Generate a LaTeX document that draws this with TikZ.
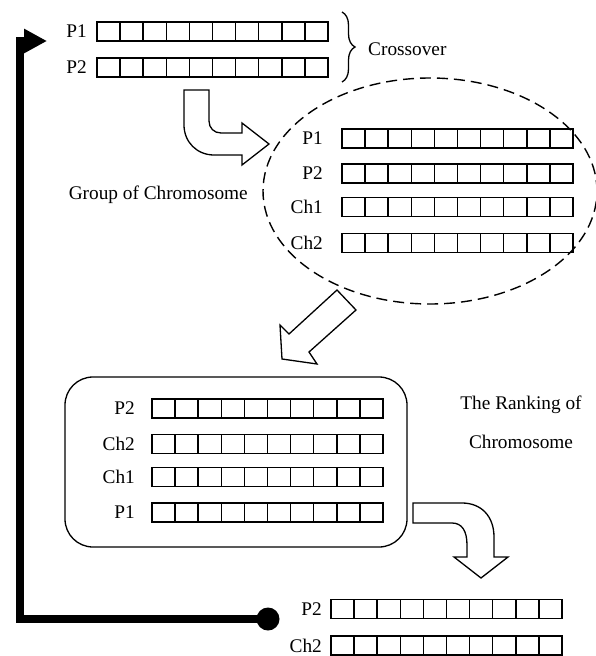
\documentclass[tikz,border=0pt]{standalone}
\usepackage{fontspec}
\setmainfont{Liberation Serif}
\usetikzlibrary{calc,shapes.geometric,arrows.meta,decorations.pathreplacing}
\tikzset{
  bar/.style={draw, line width=1.5pt, minimum width=231pt, minimum height=19pt, inner sep=0pt, outer sep=0pt},
  cellline/.style={line width=1.5pt},
  lbl/.style={font=\fontsize{19.3pt}{23pt}\selectfont, inner sep=0pt, anchor=east},
  txt/.style={font=\fontsize{19.3pt}{23pt}\selectfont, inner sep=0pt},
  blockarrow/.style={draw, line width=1.3pt, fill=white, line join=miter},
  loopline/.style={line width=8pt, line join=miter, -{Triangle[length=23pt,width=23pt]}},
}
\newcommand{\chromrow}[5]{%
  \node[bar, anchor=west] (#1) at (#3,#4) {};
  \foreach \k in {1,...,9}{\draw[cellline] ($(#1.south west)!\k/10!(#1.south east)$) -- ($(#1.north west)!\k/10!(#1.north east)$);}
  \node[lbl] (#1-l) at (#5,#4) {#2};
}
\begin{document}
\begin{tikzpicture}[x=1pt,y=-1pt]
\useasboundingbox (0,0) rectangle (596,656);
% group ellipse
\node[ellipse, draw, line width=1.4pt, dash pattern=on 11pt off 6pt, minimum width=334pt, minimum height=226pt, inner sep=0pt] (group) at (430,191) {};
% ranking box
\node[draw, line width=1.3pt, rounded corners=28pt, minimum width=342pt, minimum height=170pt, inner sep=0pt] (rank) at (236,462) {};
% top parents
\chromrow{tP1}{P1}{97}{31.5}{87}
\chromrow{tP2}{P2}{97}{67.5}{87}
% brace + crossover
\coordinate (brtop) at (342,12);
\coordinate (brbot) at (342,82);
\draw[decorate, decoration={brace, amplitude=13pt}, line width=1.3pt] (brtop) -- (brbot);
\node[txt, anchor=base west] (cross) at (368,55) {Crossover};
% group rows
\chromrow{eP1}{P1}{342}{138.5}{323}
\chromrow{eP2}{P2}{342}{173.5}{323}
\chromrow{eCh1}{Ch1}{342}{207}{323}
\chromrow{eCh2}{Ch2}{342}{243}{323}
\node[txt, anchor=base east] (grouplbl) at (248,199.5) {Group of Chromosome};
% ranking rows
\chromrow{rP2}{P2}{152}{408.5}{135}
\chromrow{rCh2}{Ch2}{152}{444}{135}
\chromrow{rCh1}{Ch1}{152}{477}{135}
\chromrow{rP1}{P1}{152}{512.5}{135}
\node[txt, anchor=base] (rank1) at (521,409.5) {The Ranking of};
\node[txt, anchor=base] (rank2) at (521,448) {Chromosome};
% bottom rows
\chromrow{bP2}{P2}{331}{609}{322}
\chromrow{bCh2}{Ch2}{331}{645.5}{322}
% block arrow 1
\draw[blockarrow] (184,90) -- (209,90) -- (209,121) .. controls (209,128) and (214,133) .. (221,133)
  -- (242,133) -- (242,123) -- (269,144) -- (242,165) -- (242,155) -- (214,155)
  .. controls (197,155) and (184,142) .. (184,125) -- cycle;
% block arrow 2
\draw[blockarrow] (337,290) -- (356,310) -- (309,352) -- (317,364) -- (282,359) -- (280,325) -- (289,334) -- cycle;
% block arrow 3
\draw[blockarrow] (413,503) -- (462,503) .. controls (481,503) and (494,516) .. (494,537) -- (494,557)
  -- (508,557) -- (481,578) -- (454,557) -- (467,557) -- (467,545)
  .. controls (467,531) and (462,523) .. (452,523) -- (413,523) -- cycle;
% feedback loop
\node[circle, fill=black, minimum size=23pt, inner sep=0pt] (dot) at (268,619) {};
\coordinate (corner1) at (19.5,619);
\coordinate (corner2) at (19.5,41);
\coordinate (looptip) at (47,41);
\draw[loopline] (dot.center) -- (corner1) -- (corner2) -- (looptip);
\end{tikzpicture}
\end{document}
